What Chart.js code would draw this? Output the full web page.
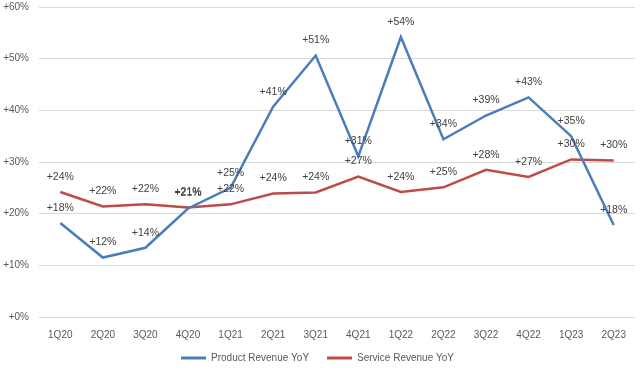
<!DOCTYPE html>
<html>
<head>
<meta charset="utf-8">
<script src="https://cdn.jsdelivr.net/npm/chart.js@4/dist/chart.umd.min.js"></script>
<style>
html,body{margin:0;padding:0;background:#fff;}
#wrap{width:640px;height:368px;}
</style>
</head>
<body>
<div id="wrap"><canvas id="c" width="640" height="368"></canvas></div>
<script>
const quarters=["1Q20","2Q20","3Q20","4Q20","1Q21","2Q21","3Q21","4Q21","1Q22","2Q22","3Q22","4Q22","1Q23","2Q23"];
const productYoY=[18.2,11.5,13.4,21,25,40.7,50.6,31.1,54.2,34.4,39,42.5,35,17.8];
const serviceYoY=[24.2,21.4,21.8,21.2,21.8,23.9,24.1,27.2,24.2,25.1,28.5,27.1,30.5,30.3];
const productLabels=["+18%","+12%","+14%","+21%","+25%","+41%","+51%","+31%","+54%","+34%","+39%","+43%","+35%","+18%"];
const serviceLabels=["+24%","+22%","+22%","+21%","+22%","+24%","+24%","+27%","+24%","+25%","+28%","+27%","+30%","+30%"];
const yTicks=[0,10,20,30,40,50,60];

const FONT="'Liberation Sans', Arial, sans-serif";

const pointLabels={
  id:"pointLabels",
  afterDatasetsDraw(chart){
    const ctx=chart.ctx;
    ctx.save();
    ctx.font="10.5px "+FONT;
    ctx.fillStyle="#404040";
    ctx.textAlign="center";
    ctx.textBaseline="middle";
    chart.data.datasets.forEach((ds,i)=>{
      chart.getDatasetMeta(i).data.forEach((pt,j)=>{
        ctx.fillText(ds.labels[j],pt.x,pt.y-15);
      });
    });
    ctx.restore();
  }
};

new Chart(document.getElementById("c"),{
  type:"line",
  data:{
    labels:quarters,
    datasets:[
      {label:"Product Revenue YoY",data:productYoY,labels:productLabels,borderColor:"#4a7ebb",backgroundColor:"#4a7ebb",borderWidth:2.5,pointRadius:0,tension:0},
      {label:"Service Revenue YoY",data:serviceYoY,labels:serviceLabels,borderColor:"#be4b48",backgroundColor:"#be4b48",borderWidth:2.5,pointRadius:0,tension:0}
    ]
  },
  options:{
    responsive:false,
    animation:false,
    layout:{padding:{top:7,right:5,left:0,bottom:-5}},
    plugins:{
      legend:{
        position:"bottom",
        labels:{
          font:{family:FONT,size:10},
          color:"#595959",
          boxWidth:25,
          boxHeight:3,
          padding:8,
          generateLabels(chart){
            return chart.data.datasets.map((ds,i)=>({
              text:ds.label+(i===0?"\u2002\u2002":""),fillStyle:ds.borderColor,strokeStyle:ds.borderColor,lineWidth:0,datasetIndex:i,fontColor:"#595959"
            }));
          }
        }
      },
      tooltip:{enabled:false}
    },
    scales:{
      x:{
        offset:true,
        grid:{display:false},
        border:{display:false},
        ticks:{font:{family:FONT,size:10},color:"#595959",maxRotation:0,padding:4}
      },
      y:{
        min:0,max:60,
        afterBuildTicks(axis){axis.ticks=yTicks.map(v=>({value:v}));},
        afterFit(axis){axis.width=39;axis.paddingTop=0;},
        grid:{color:"#d9d9d9",lineWidth:1,drawTicks:false},
        border:{display:false},
        ticks:{font:{family:FONT,size:10},color:"#595959",padding:10,callback:v=>"+"+v+"%"}
      }
    }
  },
  plugins:[pointLabels]
});
</script>
</body>
</html>
